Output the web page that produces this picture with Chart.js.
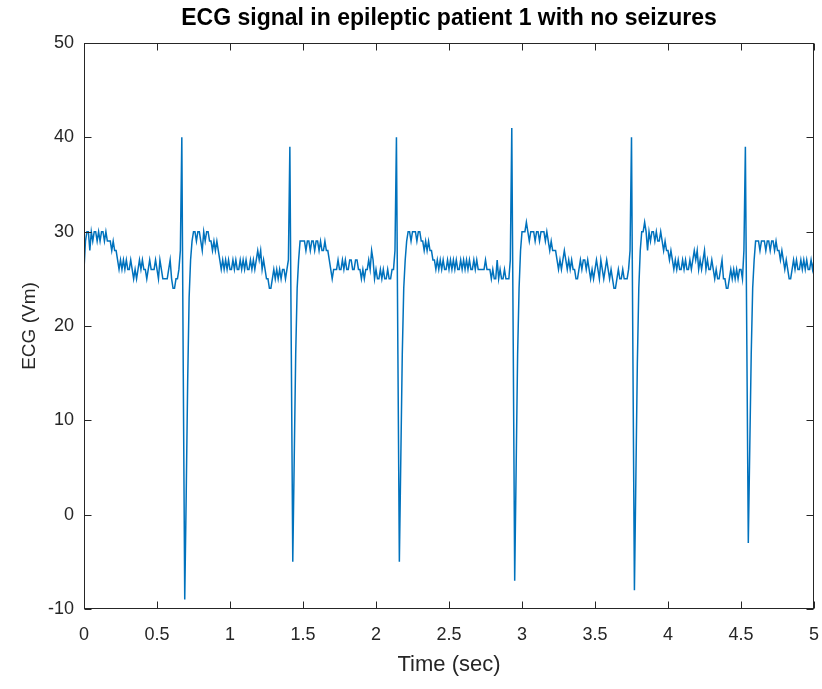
<!DOCTYPE html>
<html>
<head>
<meta charset="utf-8">
<script src="https://cdn.jsdelivr.net/npm/chart.js@4.4.0/dist/chart.umd.min.js"></script>
<style>
  html, body { margin: 0; padding: 0; background: #fff; }
  #wrap { width: 822px; height: 689px; }
</style>
</head>
<body>
<div id="wrap"><canvas id="ecgChart" width="822" height="689"></canvas></div>
<script>
var chartTitle = 'ECG signal in epileptic patient 1 with no seizures';
var xLabel = 'Time (sec)';
var yLabel = 'ECG (Vm)';

// sampled at 100 Hz, t = 0 .. 5 s (one row = 0.1 s)
var sampleRate = 100;
var xTicks = [0, 0.5, 1, 1.5, 2, 2.5, 3, 3.5, 4, 4.5, 5];
var yTicks = [-10, 0, 10, 20, 30, 40, 50];

var ecgValues = [
  26, 29, 30, 30, 28, 30, 29, 30, 30, 29,
  30, 29, 30, 30, 29, 30, 29, 29, 29, 28,
  29, 28, 28, 27, 26, 27, 26, 27, 26, 27,
  26, 26, 27, 26, 25, 26, 25, 26, 27, 26,
  27, 26, 26, 25, 26, 27, 26, 26, 26, 27,
  26, 25, 27, 26, 25, 25, 25, 25, 26, 27,
  25, 24, 24, 25, 25, 26, 28, 40, 15, -9,
  2, 14, 23, 27, 29, 30, 30, 29, 30, 30,
  29, 28, 30, 29, 30, 30, 29, 29, 28, 29,
  28, 29, 28, 27, 26, 27, 26, 27, 26, 27,
  26, 26, 27, 26, 27, 26, 26, 27, 26, 27,
  26, 27, 26, 26, 27, 26, 27, 26, 27, 28,
  27, 28, 26, 27, 26, 25, 25, 24, 24, 25,
  26, 25, 26, 25, 26, 25, 26, 26, 25, 26,
  27, 39, 17, -5, 6, 17, 24, 27, 29, 29,
  29, 29, 28, 29, 29, 28, 29, 29, 28, 29,
  29, 28, 29, 28, 28, 29, 28, 28, 27, 26,
  25, 26, 26, 26, 27, 26, 26, 27, 26, 27,
  26, 26, 27, 27, 26, 26, 27, 27, 26, 26,
  25, 26, 25, 26, 26, 27, 26, 28, 27, 25,
  26, 25, 25, 26, 25, 26, 25, 25, 26, 25,
  25, 26, 26, 28, 40, 17, -5, 6, 17, 24,
  27, 29, 30, 30, 29, 30, 30, 30, 29, 30,
  30, 29, 29, 28, 29, 28, 29, 28, 28, 27,
  27, 26, 27, 26, 27, 26, 27, 26, 26, 27,
  26, 27, 26, 27, 26, 27, 26, 26, 27, 26,
  27, 26, 27, 26, 27, 26, 26, 27, 26, 27,
  26, 26, 26, 26, 26, 27, 26, 26, 26, 25,
  26, 25, 25, 27, 25, 26, 25, 25, 26, 25,
  25, 25, 27, 41, 18, -7, 5, 17, 24, 28,
  30, 30, 30, 31, 30, 29, 30, 30, 30, 29,
  30, 30, 29, 30, 30, 30, 29, 30, 29, 28,
  29, 28, 28, 28, 27, 26, 27, 26, 27, 28,
  27, 26, 27, 26, 27, 26, 26, 25, 25, 26,
  27, 26, 27, 27, 26, 27, 26, 25, 26, 25,
  26, 27, 26, 25, 27, 26, 25, 26, 27, 26,
  25, 26, 25, 24, 24, 25, 26, 25, 25, 26,
  25, 25, 25, 26, 28, 40, 16, -8, 4, 16,
  24, 28, 30, 30, 31, 30, 28, 30, 29, 30,
  30, 29, 30, 29, 29, 30, 29, 28, 29, 28,
  28, 27, 28, 27, 26, 27, 26, 27, 26, 26,
  27, 26, 27, 26, 26, 27, 26, 27, 28, 27,
  28, 26, 27, 26, 27, 28, 26, 27, 26, 26,
  27, 26, 25, 26, 25, 25, 26, 27, 25, 25,
  24, 24, 25, 26, 25, 26, 25, 26, 25, 26,
  26, 25, 28, 39, 18, -3, 7, 17, 24, 27,
  29, 29, 29, 28, 29, 29, 29, 28, 29, 29,
  28, 29, 29, 28, 29, 28, 28, 27, 28, 27,
  26, 27, 26, 25, 25, 26, 27, 26, 27, 26,
  26, 27, 26, 27, 26, 27, 26, 26, 27, 26,
  27
];

var axisColor = '#262626';
var fontFamily = '"Liberation Sans", Arial, Helvetica, sans-serif';

// MATLAB style box with inward ticks on all four sides
var matlabAxes = {
  id: 'matlabAxes',
  afterDatasetsDraw: function (chart) {
    var ctx = chart.ctx;
    var a = chart.chartArea;
    var xs = chart.scales.x;
    var ys = chart.scales.y;
    var len = 7;
    ctx.save();
    ctx.strokeStyle = axisColor;
    ctx.lineWidth = 1;
    var l = Math.round(a.left) + 0.5, r = Math.round(a.right) - 0.5;
    var t = Math.round(a.top) + 0.5, b = Math.round(a.bottom) - 0.5;
    ctx.strokeRect(l, t, r - l, b - t);
    ctx.beginPath();
    xTicks.forEach(function (v) {
      var px = Math.round(xs.getPixelForValue(v)) + 0.5;
      ctx.moveTo(px, b); ctx.lineTo(px, b - len);
      ctx.moveTo(px, t); ctx.lineTo(px, t + len);
    });
    yTicks.forEach(function (v) {
      var py = Math.round(ys.getPixelForValue(v)) + 0.5;
      ctx.moveTo(l, py); ctx.lineTo(l + len, py);
      ctx.moveTo(r, py); ctx.lineTo(r - len, py);
    });
    ctx.stroke();
    ctx.restore();
  }
};

var points = ecgValues.map(function (v, i) { return { x: i / sampleRate, y: v }; });

new Chart(document.getElementById('ecgChart').getContext('2d'), {
  type: 'line',
  data: {
    datasets: [{
      data: points,
      borderColor: '#0072BD',
      borderWidth: 1.5,
      pointRadius: 0,
      tension: 0,
      fill: false
    }]
  },
  options: {
    responsive: false,
    animation: false,
    layout: { padding: { left: 0, right: 8, top: 0, bottom: 0 } },
    plugins: {
      legend: { display: false },
      tooltip: { enabled: false },
      title: {
        display: true,
        fullSize: false,
        text: chartTitle,
        color: '#000',
        font: { family: fontFamily, size: 23, weight: 'bold' },
        padding: { top: 5, bottom: 10.4 }
      }
    },
    scales: {
      x: {
        type: 'linear',
        min: 0,
        max: 5,
        afterBuildTicks: function (scale) { scale.ticks = xTicks.map(function (v) { return { value: v }; }); },
        afterFit: function (scale) {
          scale.height = 80;
          scale.paddingLeft = 0;
          scale.paddingRight = 0;
        },
        ticks: {
          color: axisColor,
          font: { family: fontFamily, size: 18 },
          padding: 15,
          maxRotation: 0,
          autoSkip: false,
          callback: function (v) { return String(v); }
        },
        grid: { display: false, drawTicks: false },
        border: { display: false },
        title: {
          display: true,
          text: xLabel,
          color: axisColor,
          font: { family: fontFamily, size: 22 },
          padding: { top: 0, bottom: 11 }
        }
      },
      y: {
        type: 'linear',
        min: -10,
        max: 50,
        afterBuildTicks: function (scale) { scale.ticks = yTicks.map(function (v) { return { value: v }; }); },
        afterFit: function (scale) { scale.width = 84; },
        ticks: {
          color: axisColor,
          font: { family: fontFamily, size: 18 },
          padding: 10,
          autoSkip: false,
          callback: function (v) { return String(v); }
        },
        grid: { display: false, drawTicks: false },
        border: { display: false },
        title: {
          display: true,
          text: yLabel,
          color: axisColor,
          font: { family: fontFamily, size: 19 },
          padding: { top: 18, bottom: 0 }
        }
      }
    }
  },
  plugins: [matlabAxes]
});
</script>
</body>
</html>
